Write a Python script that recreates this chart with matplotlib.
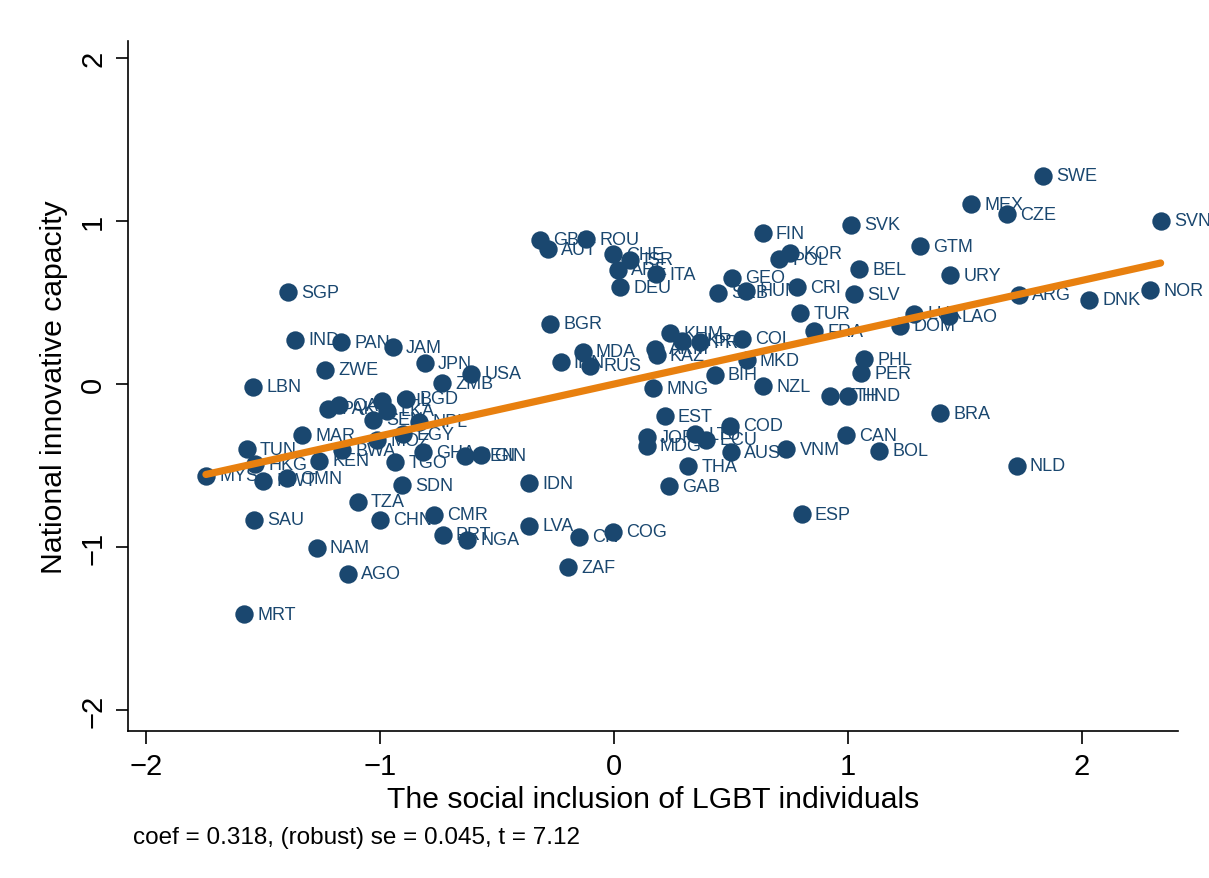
import numpy as np
import matplotlib
matplotlib.use("Agg")
import matplotlib.pyplot as plt

plt.rcParams['font.family'] = ['Liberation Sans', 'DejaVu Sans']

# country codes, social inclusion of LGBT (x), innovative capacity (y)
countries = [
    "MYS", "TUN", "HKG", "KWT", "OMN", "LBN", "SGP", "IND", "PAN", "JAM",
    "ZWE", "JPN", "USA", "ZMB", "PAK", "QAT", "CHL", "BGD", "LKA", "SEN",
    "NPL", "EGY", "MOZ", "BWA", "MAR", "KEN", "TGO", "GHA", "BEN", "GIN",
    "SDN", "TZA", "SAU", "CHN", "CMR", "PRT", "NGA", "NAM", "AGO", "MRT",
    "GBR", "AUT", "ROU", "CHE", "ISR", "ARE", "ITA", "DEU", "BGR", "MDA",
    "IRN", "RUS", "KHM", "ARM", "KAZ", "UKR", "PRY", "COL", "MKD", "BIH",
    "MNG", "NZL", "EST", "JOR", "MDG", "LTU", "ECU", "COD", "AUS", "THA",
    "GAB", "IDN", "LVA", "CIV", "COG", "ZAF", "VNM", "ESP", "CAN", "BOL",
    "BRA", "NLD", "ETH", "HND", "PHL", "PER", "FRA", "TUR", "DOM", "LUX",
    "LAO", "ARG", "DNK", "NOR", "SVN", "CZE", "MEX", "SWE", "GTM", "URY",
    "BEL", "SLV", "SVK", "FIN", "POL", "KOR", "GEO", "SRB", "HUN", "CRI",
]
lgbt_inclusion = [
    -1.744, -1.570, -1.534, -1.501, -1.399, -1.541, -1.393, -1.362, -1.167, -0.946,
    -1.235, -0.808, -0.611, -0.734, -1.222, -1.174, -0.993, -0.887, -0.971, -1.032,
    -0.833, -0.902, -1.013, -1.162, -1.333, -1.259, -0.934, -0.818, -0.637, -0.570,
    -0.908, -1.095, -1.537, -1.000, -0.769, -0.732, -0.627, -1.271, -1.138, -1.581,
    -0.316, -0.281, -0.120, -0.006, 0.068, 0.018, 0.179, 0.026, -0.274, -0.134,
    -0.228, -0.103, 0.239, 0.177, 0.182, 0.289, 0.368, 0.546, 0.567, 0.430,
    0.168, 0.638, 0.217, 0.140, 0.140, 0.346, 0.395, 0.496, 0.500, 0.318,
    0.236, -0.362, -0.362, -0.148, -0.003, -0.195, 0.736, 0.802, 0.991, 1.133,
    1.393, 1.721, 0.923, 1.001, 1.070, 1.055, 0.856, 0.795, 1.224, 1.284,
    1.430, 1.731, 2.030, 2.291, 2.336, 1.678, 1.526, 1.832, 1.308, 1.436,
    1.047, 1.024, 1.013, 0.635, 0.705, 0.752, 0.506, 0.443, 0.564, 0.781,
]
innovative_capacity = [
    -0.563, -0.399, -0.491, -0.593, -0.577, -0.017, 0.564, 0.272, 0.256, 0.227,
    0.088, 0.127, 0.064, 0.005, -0.150, -0.129, -0.102, -0.089, -0.164, -0.218,
    -0.230, -0.307, -0.344, -0.405, -0.313, -0.471, -0.480, -0.419, -0.440, -0.436,
    -0.620, -0.722, -0.834, -0.834, -0.802, -0.925, -0.955, -1.004, -1.164, -1.411,
    0.885, 0.828, 0.890, 0.798, 0.763, 0.701, 0.675, 0.593, 0.371, 0.198,
    0.133, 0.112, 0.313, 0.218, 0.178, 0.266, 0.256, 0.278, 0.145, 0.058,
    -0.026, -0.014, -0.198, -0.327, -0.379, -0.307, -0.342, -0.256, -0.419, -0.503,
    -0.626, -0.609, -0.869, -0.937, -0.906, -1.125, -0.401, -0.799, -0.315, -0.409,
    -0.180, -0.501, -0.072, -0.072, 0.153, 0.067, 0.325, 0.434, 0.358, 0.433,
    0.415, 0.548, 0.517, 0.577, 1.002, 1.043, 1.104, 1.278, 0.845, 0.669,
    0.706, 0.552, 0.977, 0.925, 0.767, 0.802, 0.652, 0.560, 0.572, 0.593,
]

# fitted line (from the note under the chart)
fit_coef = 0.318
fit_intercept = 0.0
note = "coef = 0.318, (robust) se = 0.045, t = 7.12"

navy = '#1a476f'
orange = '#e8800f'

x = np.array(lgbt_inclusion)
y = np.array(innovative_capacity)

fig = plt.figure(figsize=(12.09, 8.79), dpi=100)
ax = fig.add_axes([0.1059, 0.1672, 0.8684, 0.7848])

ax.scatter(x, y, s=175, color=navy, zorder=3, linewidths=0)
for name, xi, yi in zip(countries, x, y):
    ax.annotate(name, (xi, yi), xytext=(9.5, 0), textcoords='offset points',
                ha='left', va='center', fontsize=13, color=navy, zorder=3)

xs = np.array([x.min(), x.max()])
ax.plot(xs, fit_intercept + fit_coef * xs, color=orange, lw=5.2,
        solid_capstyle='round', zorder=4)

ax.set_xlim(-2.077, 2.41)
ax.set_ylim(-2.129, 2.104)
ax.set_xticks([-2, -1, 0, 1, 2])
ax.set_yticks([-2, -1, 0, 1, 2])
ax.tick_params(axis='both', direction='out', length=9, width=1.2,
               labelsize=21, pad=6)
plt.setp(ax.get_yticklabels(), rotation=90, va='center')

ax.spines['top'].set_visible(False)
ax.spines['right'].set_visible(False)
ax.spines['left'].set_linewidth(1.2)
ax.spines['bottom'].set_linewidth(1.2)

ax.set_xlabel('The social inclusion of LGBT individuals', fontsize=21.7, labelpad=4)
ax.set_ylabel('National innovative capacity', fontsize=21.7, labelpad=8)

fig.text(0.110, 0.0466, note, fontsize=17.5, ha='left', va='center')

plt.savefig('out.png', dpi=100, facecolor='white')
